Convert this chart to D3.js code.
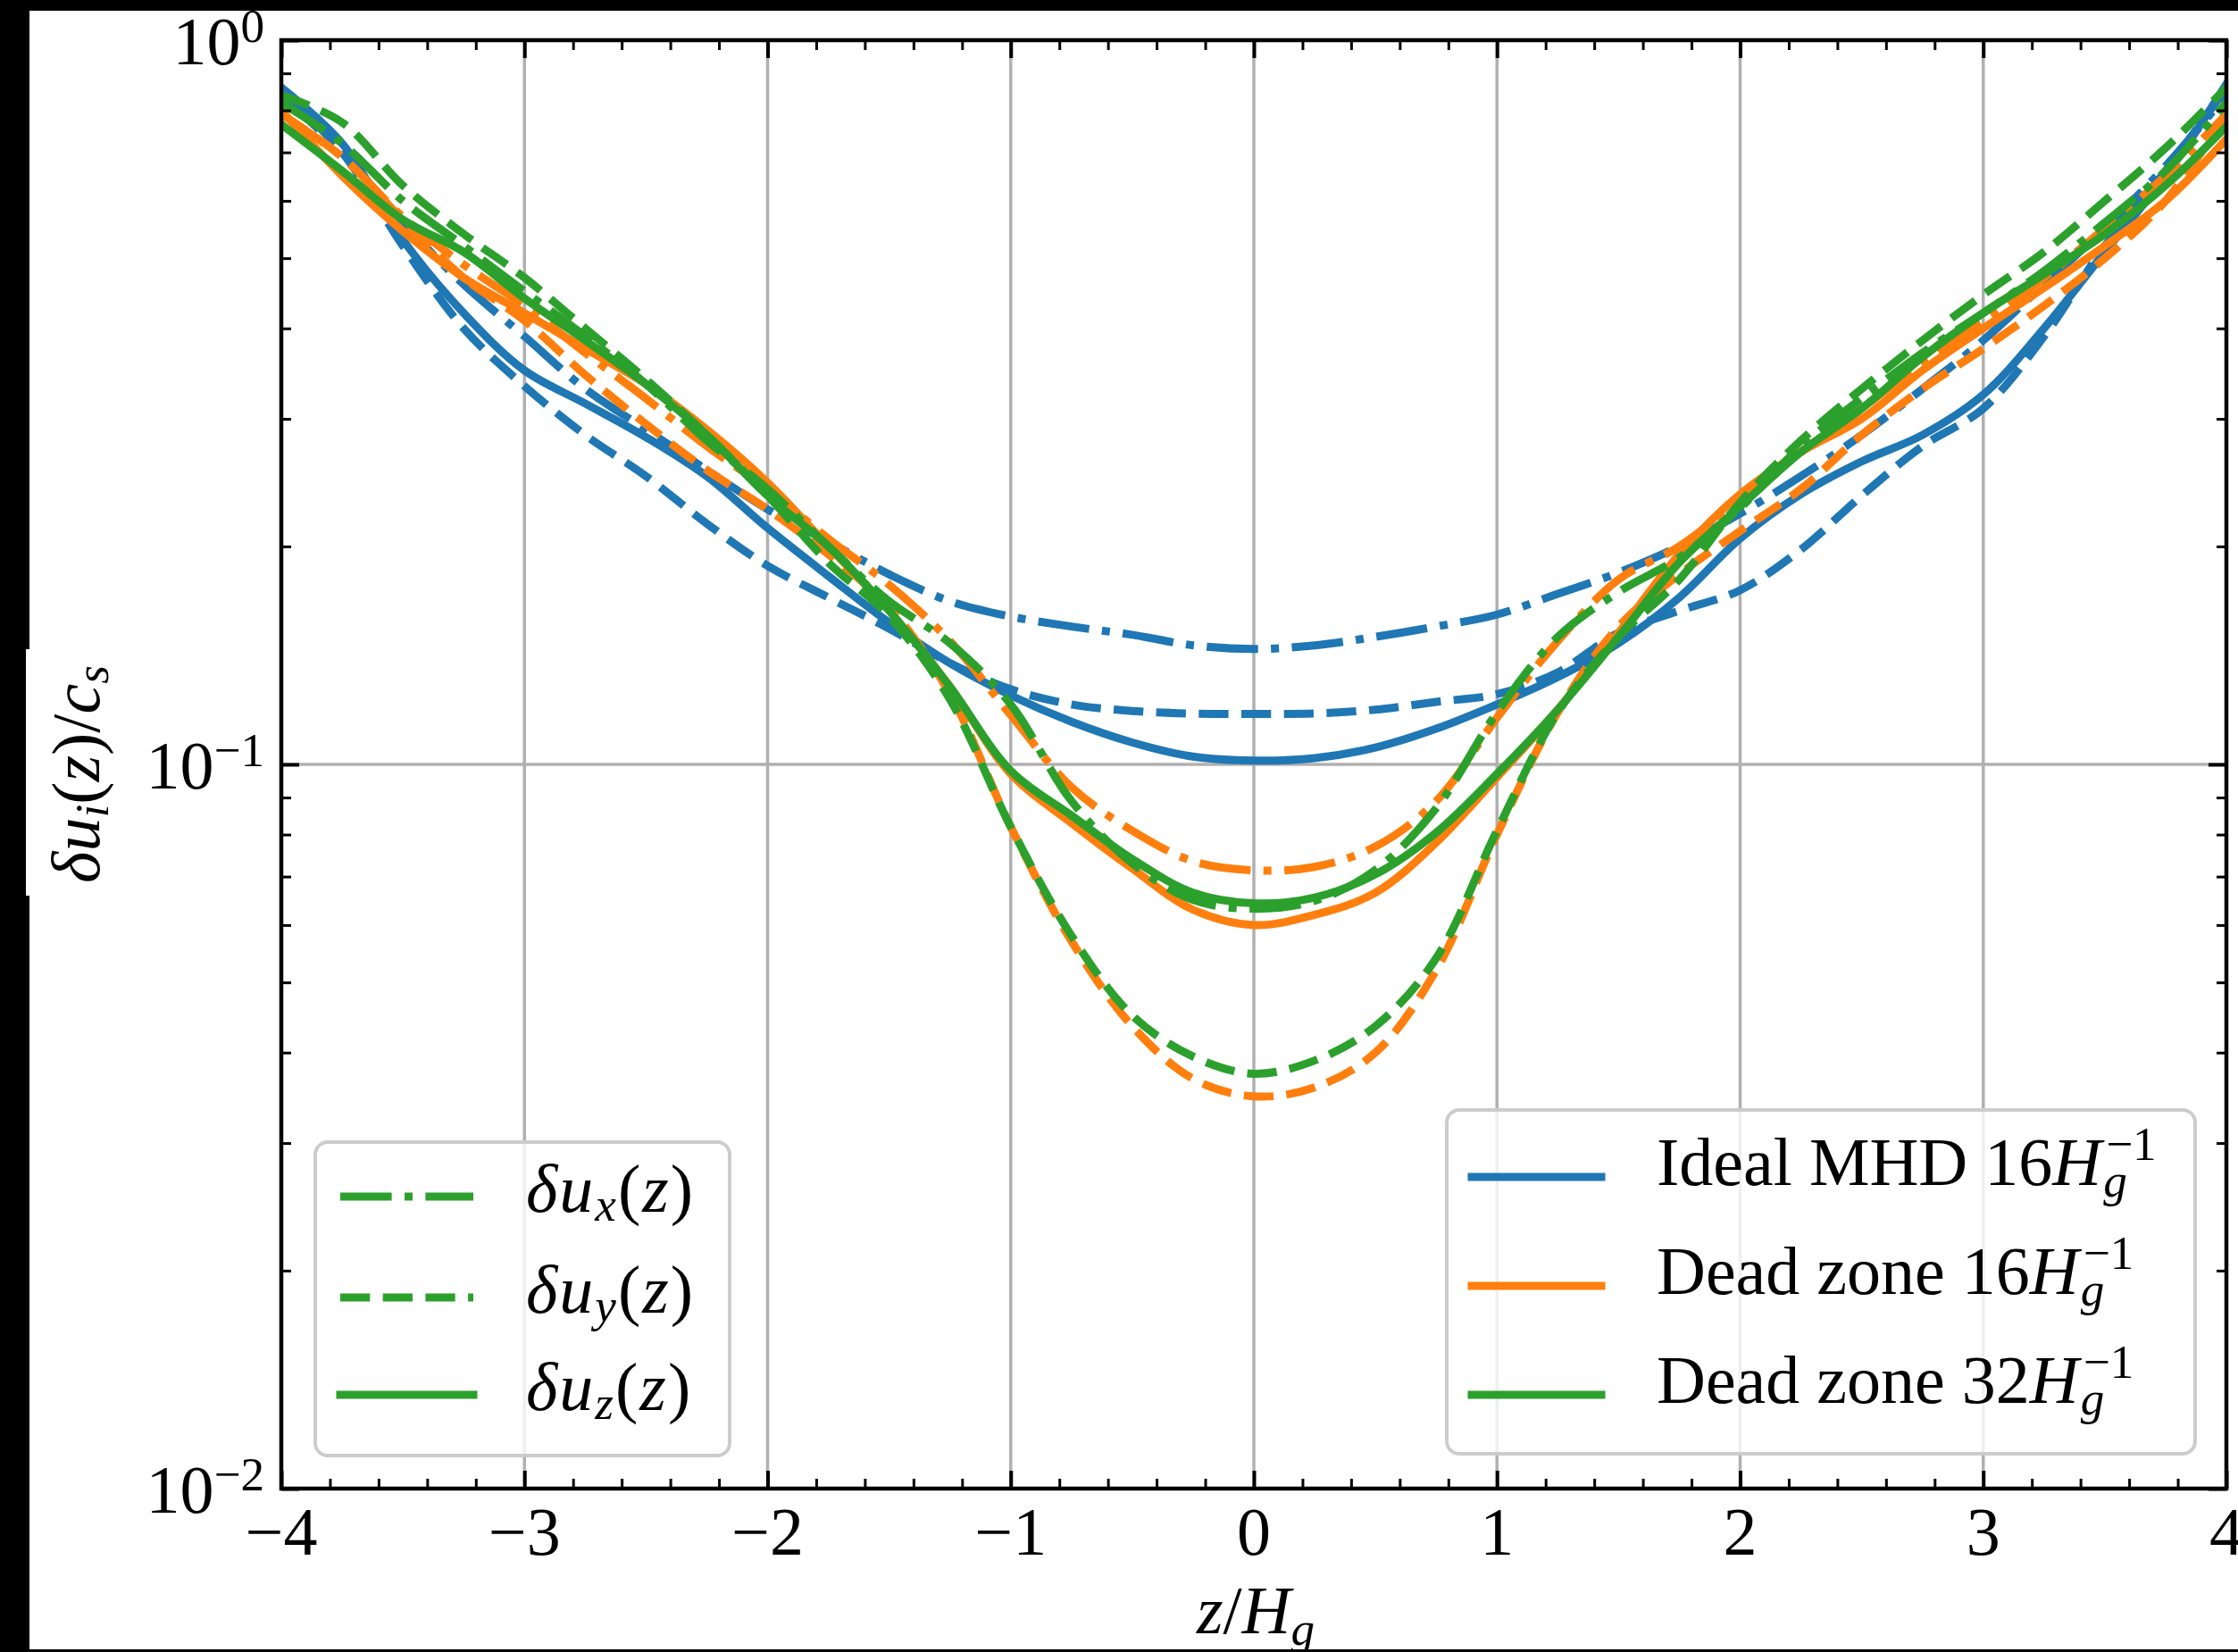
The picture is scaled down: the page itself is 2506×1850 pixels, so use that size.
<!DOCTYPE html>
<html>
<head>
<meta charset="utf-8">
<script src="https://cdnjs.cloudflare.com/ajax/libs/d3/7.8.5/d3.min.js"></script>
<style>
  body { margin: 0; background: #000; }
  svg { display: block; }
  text { font-family: "Liberation Serif", "DejaVu Serif", serif; fill: #000; }
</style>
</head>
<body>
<div id="chart"></div>
<script>
var zGrid = [-4, -3.75, -3.5, -3.25, -3, -2.75, -2.5, -2.25, -2, -1.75, -1.5, -1.25, -1, -0.75, -0.5, -0.25,
  0, 0.25, 0.5, 0.75, 1, 1.25, 1.5, 1.75, 2, 2.25, 2.5, 2.75, 3, 3.25, 3.5, 3.75, 4];

// Ideal MHD 16/H_g
var idealUx = [0.84, 0.70, 0.56, 0.46, 0.39, 0.33, 0.29, 0.255, 0.225, 0.203, 0.183, 0.168, 0.160, 0.155, 0.151, 0.146,
  0.1443, 0.146, 0.150, 0.155, 0.161, 0.172, 0.184, 0.20, 0.222, 0.25, 0.285, 0.33, 0.385, 0.46, 0.55, 0.67, 0.84];
var idealUy = [0.85, 0.70, 0.52, 0.40, 0.333, 0.285, 0.25, 0.215, 0.188, 0.170, 0.154, 0.138, 0.127, 0.121, 0.1185, 0.1175,
  0.1174, 0.1176, 0.119, 0.122, 0.125, 0.134, 0.152, 0.163, 0.174, 0.198, 0.235, 0.275, 0.31, 0.39, 0.52, 0.66, 0.86];
var idealUz = [0.86, 0.72, 0.53, 0.42, 0.35, 0.315, 0.283, 0.25, 0.212, 0.182, 0.157, 0.138, 0.1245, 0.1145, 0.1072, 0.1025,
  0.1012, 0.102, 0.1055, 0.112, 0.121, 0.132, 0.147, 0.17, 0.205, 0.236, 0.262, 0.285, 0.324, 0.40, 0.51, 0.65, 0.87];

// Dead zone 16/H_g
var dz16Ux = [0.79, 0.69, 0.57, 0.49, 0.43, 0.37, 0.32, 0.275, 0.24, 0.205, 0.177, 0.148, 0.117, 0.093, 0.081, 0.0735,
  0.0714, 0.0722, 0.077, 0.089, 0.116, 0.148, 0.18, 0.20, 0.232, 0.27, 0.31, 0.36, 0.41, 0.47, 0.55, 0.65, 0.79];
var dz16Uy = [0.79, 0.69, 0.565, 0.47, 0.41, 0.345, 0.295, 0.255, 0.225, 0.195, 0.165, 0.125, 0.082, 0.057, 0.0435, 0.0368,
  0.0348, 0.0358, 0.040, 0.052, 0.080, 0.118, 0.155, 0.183, 0.21, 0.24, 0.285, 0.33, 0.375, 0.43, 0.50, 0.60, 0.79];
var dz16Uz = [0.80, 0.65, 0.545, 0.47, 0.42, 0.375, 0.335, 0.29, 0.245, 0.20, 0.163, 0.128, 0.097, 0.083, 0.0718, 0.063,
  0.060, 0.062, 0.0665, 0.078, 0.096, 0.119, 0.152, 0.195, 0.236, 0.27, 0.30, 0.35, 0.40, 0.455, 0.52, 0.60, 0.73];

// Dead zone 32/H_g
var dz32Ux = [0.82, 0.72, 0.60, 0.52, 0.45, 0.39, 0.335, 0.28, 0.24, 0.20, 0.168, 0.147, 0.121, 0.089, 0.073, 0.065,
  0.0632, 0.0648, 0.0715, 0.087, 0.118, 0.150, 0.173, 0.193, 0.226, 0.275, 0.32, 0.37, 0.42, 0.48, 0.56, 0.66, 0.82];
var dz32Uy = [0.84, 0.77, 0.63, 0.54, 0.47, 0.40, 0.34, 0.285, 0.235, 0.19, 0.160, 0.123, 0.082, 0.058, 0.045, 0.0395,
  0.0374, 0.039, 0.0435, 0.054, 0.081, 0.118, 0.150, 0.18, 0.23, 0.28, 0.33, 0.385, 0.445, 0.51, 0.60, 0.71, 0.86];
var dz32Uz = [0.765, 0.66, 0.565, 0.51, 0.44, 0.385, 0.335, 0.285, 0.235, 0.20, 0.163, 0.128, 0.098, 0.085, 0.074, 0.0665,
  0.0643, 0.0655, 0.0705, 0.0805, 0.097, 0.119, 0.150, 0.19, 0.227, 0.27, 0.31, 0.365, 0.42, 0.475, 0.54, 0.63, 0.76];

// ticks
var xTicks = [-4, -3, -2, -1, 0, 1, 2, 3, 4];
var xTickLabels = ["\u22124", "\u22123", "\u22122", "\u22121", "0", "1", "2", "3", "4"];
var yTicks = [0.01, 0.1, 1];
var yTickExp = ["\u22122", "\u22121", "0"];

var modelNames = ["Ideal MHD 16", "Dead zone 16", "Dead zone 32"];

// ---------------------------------------------------------------
var svgWidth = 2506, svgHeight = 1850;
var plot = { left: 315, right: 2493, top: 45, bottom: 1667 };
var fs = 76;

var blue = "#1f77b4", orange = "#ff7f0e", green = "#2ca02c";
var lw = 9;
var dashed = "33.3,14.4";
var dashDot = "57.6,14.4,9,14.4";

var svg = d3.select("#chart").append("svg")
  .attr("width", svgWidth)
  .attr("height", svgHeight);

// black screenshot border, white canvas
svg.append("rect").attr("width", svgWidth).attr("height", svgHeight).attr("fill", "#000");
svg.append("rect").attr("x", 33).attr("y", 12).attr("width", svgWidth - 33).attr("height", svgHeight - 15).attr("fill", "#fff");
svg.append("rect").attr("x", 29).attr("y", 727).attr("width", 5).attr("height", 276).attr("fill", "#fff");

var x = d3.scaleLinear().domain([-4, 4]).range([plot.left, plot.right]);
var y = d3.scaleLog().domain([0.01, 1]).range([plot.bottom, plot.top]);

// grid
var grid = svg.append("g").attr("stroke", "#b0b0b0").attr("stroke-width", 3.5);
grid.selectAll("line.gx").data(xTicks.slice(1, -1)).enter().append("line")
  .attr("x1", d => x(d)).attr("x2", d => x(d))
  .attr("y1", plot.top).attr("y2", plot.bottom);
grid.append("line")
  .attr("x1", plot.left).attr("x2", plot.right)
  .attr("y1", y(0.1)).attr("y2", y(0.1));

// curves
var series = [
  { vals: idealUx, color: blue, dash: dashDot },
  { vals: idealUy, color: blue, dash: dashed },
  { vals: idealUz, color: blue, dash: null },
  { vals: dz16Ux, color: orange, dash: dashDot },
  { vals: dz16Uy, color: orange, dash: dashed },
  { vals: dz16Uz, color: orange, dash: null },
  { vals: dz32Ux, color: green, dash: dashDot },
  { vals: dz32Uy, color: green, dash: dashed },
  { vals: dz32Uz, color: green, dash: null }
];

svg.append("clipPath").attr("id", "clip").append("rect")
  .attr("x", plot.left).attr("y", plot.top)
  .attr("width", plot.right - plot.left).attr("height", plot.bottom - plot.top);

var line = d3.line()
  .x(d => x(d[0]))
  .y(d => y(d[1]))
  .curve(d3.curveCatmullRom.alpha(0.5));

var curves = svg.append("g").attr("clip-path", "url(#clip)");
series.forEach(function(s) {
  curves.append("path")
    .datum(zGrid.map((z, i) => [z, s.vals[i]]))
    .attr("d", line)
    .attr("fill", "none")
    .attr("stroke", s.color)
    .attr("stroke-width", lw)
    .attr("stroke-linejoin", "round")
    .attr("stroke-linecap", s.dash ? "butt" : "square")
    .attr("stroke-dasharray", s.dash);
});

// axes: ticks pointing inwards on all four sides
var xMinor = d3.range(-4, 4.001, 0.2).filter(v => Math.abs(v - Math.round(v)) > 1e-6);
var yMinor = [];
[0.01, 0.1].forEach(function(dec) { for (var k = 2; k <= 9; k++) yMinor.push(k * dec); });

function styleAxis(g, width) {
  g.select(".domain").remove();
  g.selectAll(".tick line").attr("stroke", "#000").attr("stroke-width", width);
}

svg.append("g").attr("transform", `translate(0, ${plot.bottom})`)
  .call(d3.axisBottom(x).tickValues(xTicks).tickSize(-20).tickFormat("")).call(g => styleAxis(g, 4));
svg.append("g").attr("transform", `translate(0, ${plot.bottom})`)
  .call(d3.axisBottom(x).tickValues(xMinor).tickSize(-11).tickFormat("")).call(g => styleAxis(g, 3));
svg.append("g").attr("transform", `translate(0, ${plot.top})`)
  .call(d3.axisTop(x).tickValues(xTicks).tickSize(-20).tickFormat("")).call(g => styleAxis(g, 4));
svg.append("g").attr("transform", `translate(0, ${plot.top})`)
  .call(d3.axisTop(x).tickValues(xMinor).tickSize(-11).tickFormat("")).call(g => styleAxis(g, 3));
svg.append("g").attr("transform", `translate(${plot.left}, 0)`)
  .call(d3.axisLeft(y).tickValues(yTicks).tickSize(-20).tickFormat("")).call(g => styleAxis(g, 4));
svg.append("g").attr("transform", `translate(${plot.left}, 0)`)
  .call(d3.axisLeft(y).tickValues(yMinor).tickSize(-11).tickFormat("")).call(g => styleAxis(g, 3));
svg.append("g").attr("transform", `translate(${plot.right}, 0)`)
  .call(d3.axisRight(y).tickValues(yTicks).tickSize(-20).tickFormat("")).call(g => styleAxis(g, 4));
svg.append("g").attr("transform", `translate(${plot.right}, 0)`)
  .call(d3.axisRight(y).tickValues(yMinor).tickSize(-11).tickFormat("")).call(g => styleAxis(g, 3));

svg.append("rect")
  .attr("x", plot.left).attr("y", plot.top)
  .attr("width", plot.right - plot.left).attr("height", plot.bottom - plot.top)
  .attr("fill", "none").attr("stroke", "#000").attr("stroke-width", 4.5);

// tick labels
svg.append("g").selectAll("text").data(xTicks).enter().append("text")
  .attr("x", d => x(d)).attr("y", plot.bottom + 74)
  .attr("text-anchor", "middle").attr("font-size", fs)
  .text((d, i) => xTickLabels[i]);

yTicks.forEach(function(v, i) {
  var t = svg.append("text")
    .attr("x", 296).attr("y", y(v) + 27)
    .attr("text-anchor", "end").attr("font-size", fs);
  t.append("tspan").text("10");
  t.append("tspan").text(yTickExp[i]).attr("font-size", fs * 0.7).attr("dy", -25);
});

// small helper for math-like labels: italic parts, subscripts, superscripts
function mathText(t, parts, sub, sup) {
  var cur = 0;
  parts.forEach(function(p) {
    var target = p.sub ? sub : (p.sup ? -sup : 0);
    var ts = t.append("tspan").text(p.t)
      .attr("dy", target - cur)
      .style("font-style", p.it ? "italic" : "normal");
    if (p.sub || p.sup) ts.attr("font-size", fs * 0.7);
    cur = target;
  });
}

// axis labels
mathText(svg.append("text")
  .attr("x", 1406).attr("y", 1829)
  .attr("text-anchor", "middle").attr("font-size", fs),
  [{ t: "z", it: true }, { t: "/" }, { t: "H", it: true }, { t: "g", it: true, sub: true }], 13, 0);

mathText(svg.append("text")
  .attr("transform", "translate(111, 867) rotate(-90)")
  .attr("text-anchor", "middle").attr("font-size", fs),
  [{ t: "\u03b4", it: true }, { t: "u", it: true }, { t: "i", it: true, sub: true },
   { t: "(" }, { t: "z", it: true }, { t: ")" }, { t: "/" },
   { t: "c", it: true }, { t: "s", it: true, sub: true }], 10, 0);

// legend: velocity components
var leg1 = svg.append("g");
leg1.append("rect")
  .attr("x", 353).attr("y", 1279).attr("width", 464).attr("height", 351)
  .attr("rx", 14).attr("ry", 14)
  .attr("fill", "#fff").attr("fill-opacity", 0.8)
  .attr("stroke", "#cccccc").attr("stroke-width", 4);

var compNames = ["x", "y", "z"];
var compDash = [dashDot, dashed, null];
var leg1Rows = [1340, 1453, 1562];
compNames.forEach(function(c, i) {
  leg1.append("line")
    .attr("x1", 381).attr("x2", 530)
    .attr("y1", leg1Rows[i]).attr("y2", leg1Rows[i])
    .attr("stroke", green).attr("stroke-width", lw)
    .attr("stroke-linecap", compDash[i] ? "butt" : "square")
    .attr("stroke-dasharray", compDash[i]);
  mathText(leg1.append("text")
    .attr("x", 589).attr("y", leg1Rows[i] + 17).attr("font-size", fs)
    .attr("letter-spacing", 2),
    [{ t: "\u03b4", it: true }, { t: "u", it: true }, { t: c, it: true, sub: true },
     { t: "(" }, { t: "z", it: true }, { t: ")" }], 10, 0);
});

// legend: runs
var leg2 = svg.append("g");
leg2.append("rect")
  .attr("x", 1620).attr("y", 1243).attr("width", 838).attr("height", 385)
  .attr("rx", 14).attr("ry", 14)
  .attr("fill", "#fff").attr("fill-opacity", 0.8)
  .attr("stroke", "#cccccc").attr("stroke-width", 4);

var modelColors = [blue, orange, green];
var leg2Rows = [1318, 1440, 1562];
modelNames.forEach(function(name, i) {
  var ry = leg2Rows[i];
  leg2.append("line")
    .attr("x1", 1648).attr("x2", 1793)
    .attr("y1", ry).attr("y2", ry)
    .attr("stroke", modelColors[i]).attr("stroke-width", lw)
    .attr("stroke-linecap", "square");
  var t = leg2.append("text").attr("x", 1855).attr("y", ry + 9).attr("font-size", fs);
  t.append("tspan").text(name);
  t.append("tspan").text("H").style("font-style", "italic");
  var endX = 1855 + t.node().getComputedTextLength();
  // stacked subscript g and superscript -1 after H
  t.append("tspan").attr("x", endX + 2).attr("dy", 13)
    .attr("font-size", fs * 0.7).style("font-style", "italic").text("g");
  t.append("tspan").attr("x", endX + 5).attr("dy", -41)
    .attr("font-size", fs * 0.7).style("font-style", "normal").text("\u22121");
});
</script>
</body>
</html>
